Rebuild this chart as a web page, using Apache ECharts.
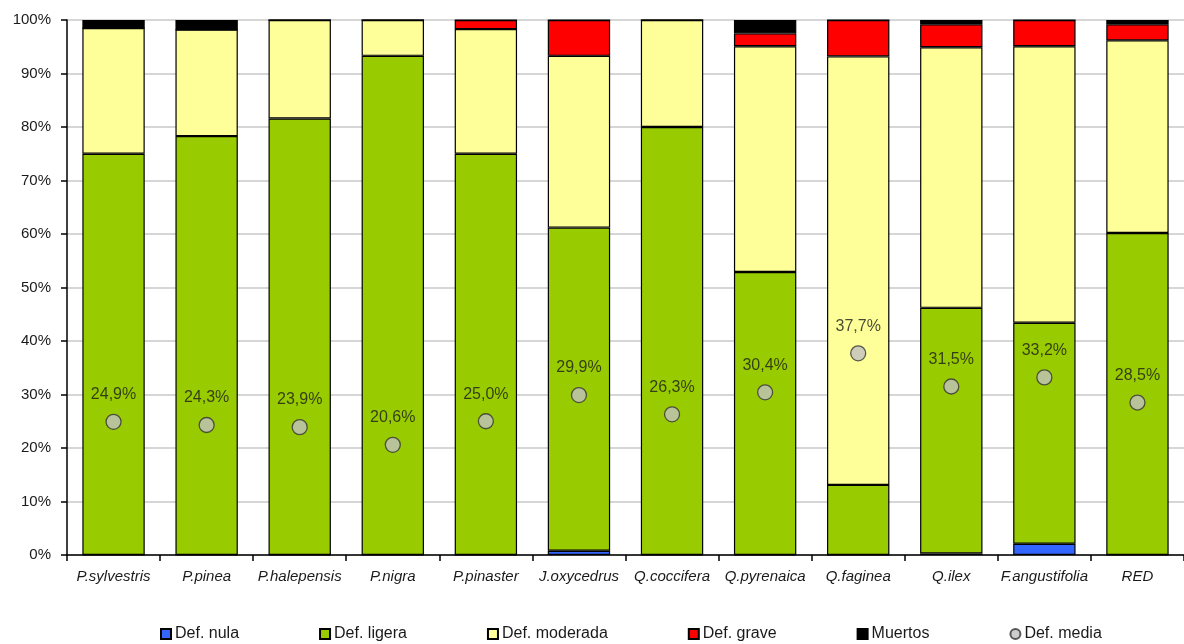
<!DOCTYPE html>
<html>
<head>
<meta charset="utf-8">
<script src="https://cdn.jsdelivr.net/npm/echarts@6/dist/echarts.min.js"></script>
<style>html,body{margin:0;padding:0;background:#fff;}#c{width:1184px;height:644px;}</style>
</head>
<body>
<div id="c"></div>
<script>
var categories = ['P.sylvestris','P.pinea','P.halepensis','P.nigra','P.pinaster','J.oxycedrus','Q.coccifera','Q.pyrenaica','Q.faginea','Q.ilex','F.angustifolia','RED'];
var defNula     = [0, 0, 0, 0, 0, 0.8, 0, 0, 0, 0.3, 2.1, 0];
var defLigera   = [75.0, 78.3, 81.6, 93.3, 75.0, 60.4, 80.0, 52.9, 13.1, 45.9, 41.3, 60.2];
var defModerada = [23.5, 19.9, 18.4, 6.7, 23.3, 32.1, 20.0, 42.2, 80.1, 48.7, 51.7, 36.0];
var defGrave    = [0, 0, 0, 0, 1.7, 6.7, 0, 2.4, 6.8, 4.3, 4.9, 3.0];
var muertos     = [1.5, 1.8, 0, 0, 0, 0, 0, 2.5, 0, 0.8, 0, 0.8];
var defMedia    = [24.9, 24.3, 23.9, 20.6, 25.0, 29.9, 26.3, 30.4, 37.7, 31.5, 33.2, 28.5];

var chart = echarts.init(document.getElementById('c'));
var font = 'Liberation Sans, Arial, sans-serif';
var txt = '#1a1a1a';
function barSeries(name, data, color) {
  return {
    name: name, type: 'bar', stack: 'total', data: data, barWidth: '67%',
    itemStyle: { color: color, borderColor: '#000', borderWidth: 1.2 },
    emphasis: { disabled: true }
  };
}
chart.setOption({
  animation: false,
  textStyle: { fontFamily: font },
  grid: { left: 67, top: 20, bottom: 89, width: 1125 },
  legend: {
    top: 621, left: 155, itemWidth: 10, itemHeight: 10, itemGap: 80,
    textStyle: { fontSize: 16, color: txt, fontFamily: font, padding: [0, 0, 0, -1] },
    data: [
      { name: 'Def. nula', icon: 'rect' },
      { name: 'Def. ligera', icon: 'rect' },
      { name: 'Def. moderada', icon: 'rect' },
      { name: 'Def. grave', icon: 'rect' },
      { name: 'Muertos', icon: 'rect' },
      { name: 'Def. media', icon: 'circle' }
    ]
  },
  xAxis: {
    type: 'category', data: categories,
    axisLine: { lineStyle: { color: '#000', width: 1.5 } },
    axisTick: { show: true, length: 6, lineStyle: { color: '#000', width: 1.5 } },
    axisLabel: { fontStyle: 'italic', fontSize: 15, color: txt, margin: 14, interval: 0, fontFamily: font }
  },
  yAxis: {
    type: 'value', min: 0, max: 100, interval: 10,
    axisLine: { show: true, lineStyle: { color: '#000', width: 1.5 } },
    axisTick: { show: true, length: 6, lineStyle: { color: '#000', width: 1.5 } },
    axisLabel: { formatter: '{value}%', fontSize: 15, color: txt, margin: 16, fontFamily: font },
    splitLine: { lineStyle: { color: '#c8c8c8', width: 1.5 } }
  },
  series: [
    barSeries('Def. nula', defNula, '#3366ff'),
    barSeries('Def. ligera', defLigera, '#99cc00'),
    barSeries('Def. moderada', defModerada, '#ffff99'),
    barSeries('Def. grave', defGrave, '#ff0000'),
    barSeries('Muertos', muertos, '#000000'),
    {
      name: 'Def. media', type: 'scatter', data: defMedia, symbol: 'circle', symbolSize: 15,
      itemStyle: { color: '#c0c0c0', borderColor: '#333', borderWidth: 1.3 },
      label: {
        show: true, position: 'top', distance: 11, fontSize: 16, color: txt, fontFamily: font,
        formatter: function (p) { return p.value.toFixed(1).replace('.', ',') + '%'; }
      },
      z: 10
    }
  ]
});
</script>
</body>
</html>
